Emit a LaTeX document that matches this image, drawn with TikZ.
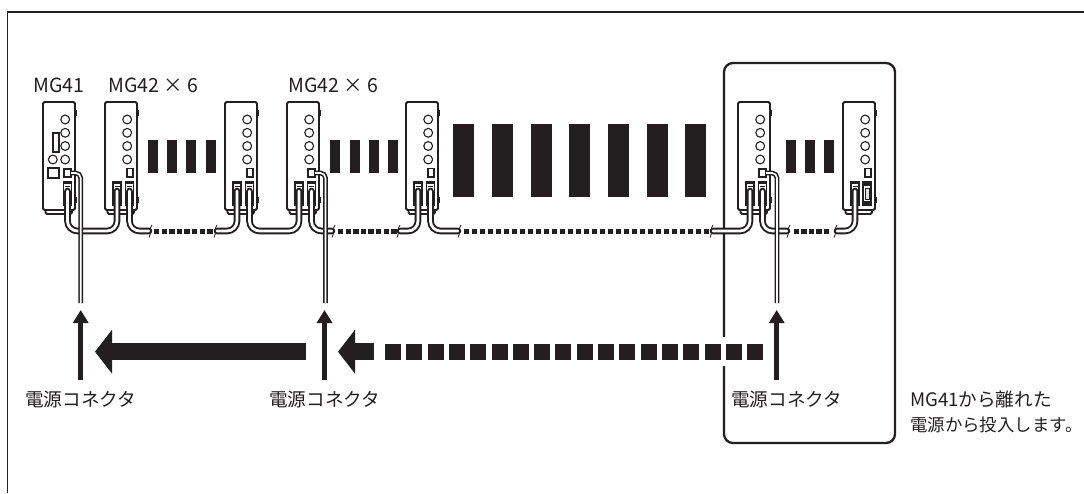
\documentclass[tikz,border=0pt]{standalone}
\usepackage{fontspec}
\setmainfont{Noto Sans CJK JP}
\usetikzlibrary{arrows.meta}
\definecolor{ink}{HTML}{231F20}
\tikzset{
  x=1pt,y=-1pt,
  shell/.style={draw=ink,line width=1.9pt,fill=white,rounded corners=1.5pt},
  thin part/.style={draw=ink,line width=1.1pt,fill=white},
  cable/.style={draw=ink,line width=1.9pt,double=white,double distance=2.8pt,line cap=round,rounded corners=10pt},
  power cable/.style={draw=ink,line width=1.6pt,double=white,double distance=1.6pt,rounded corners=5pt},
  up arrow/.style={draw=ink,line width=5pt,-{Triangle[length=13pt,width=15pt]}},
  big arrow/.style={draw=ink,line width=17pt,-{Triangle[length=17pt,width=43pt]}},
  label/.style={anchor=base west,inner sep=0pt,text=ink,font=\fontsize{18.6}{18.6}\selectfont},
  top label/.style={label,font=\fontsize{19.5}{19.5}\selectfont},
  tight label/.style={label,font=\fontsize{17.4}{17.4}\selectfont},
  brk/.style={draw=ink,line width=0.8pt},
}
% #1 name, #2 left edge
\newcommand\devbody[2]{%
  \begin{scope}[shift={(#2,0)}]
    \draw[shell] (2.5,208) -- (2.5,214) -- (29,214) -- (29,208);
    \draw[draw=ink,line width=1.9pt,fill=white,rounded corners=1.5pt] (0,210) -- (0,102) -- (32,102) -- (32,210) -- cycle;
    \fill[ink] (31.6,110) rectangle (33.8,116);
    \fill[ink] (31.6,197) rectangle (33.8,203);
    \foreach \cy in {119.5,132.8,146,159.5} \draw[thin part] (22.2,\cy) circle (4.4);
    \coordinate (#1-a) at (12,191);
    \coordinate (#1-b) at (24.5,191);
    \coordinate (#1-p) at (28,173);
  \end{scope}}
\newcommand\conn[2]{% left edge, centre offset
  \begin{scope}[shift={(#1+#2,0)}]
    \draw[draw=ink,line width=1.2pt,fill=white] (-4,182) rectangle (4,205);
    \fill[ink] (-4,182) rectangle (4,184);
    \draw[ink,line width=0.6pt] (-2.5,186.5) -- (2.5,186.5);
  \end{scope}}
\newcommand\smallport[1]{\draw[thin part] (#1+22,168.5) rectangle (#1+28,177);}
\newcommand\powerport[1]{\draw[thin part,fill=white] (#1+21,169) rectangle (#1+28,177);}
\newcommand\brkmark[1]{\draw[brk] (#1-1.5,237.5) .. controls (#1+1,234) and (#1-1.5,228) .. (#1+1.5,225);}
\begin{document}
\begin{tikzpicture}
\useasboundingbox (0,0) rectangle (1084,493);
\fill[white] (0,0) rectangle (1084,493);
% outer frame
\draw[ink,line width=1.5pt] (7.3,493) -- (7.3,12) -- (1084,12);
% highlight box
\draw[ink,line width=2.3pt,rounded corners=9pt] (724,63) rectangle (895,443);
\fill[white] (720,337) rectangle (728,366);
% devices
\devbody{da}{43}
\devbody{db}{105}
\devbody{dc}{225}
\devbody{dd}{287}
\devbody{de}{406}
\devbody{df}{738}
\devbody{dg}{843}
% MG41 extras
\draw[thin part] (53,133) rectangle (59,152);
\draw[thin part] (52.8,159.5) circle (4.4);
\draw[thin part] (48,168) rectangle (59,178);
\powerport{43}
\powerport{287}
\powerport{738}
\smallport{105}
\smallport{225}
\smallport{406}
\smallport{843}
% connectors
\conn{43}{24.5}
\foreach \dx in {105,225,287,406,738} {\conn{\dx}{12}\conn{\dx}{24.5}}
\conn{843}{12}
\draw[draw=ink,line width=1.2pt,fill=white] (863,182) rectangle (871,205);
\fill[ink] (863,182) rectangle (871,186);
\fill[ink] (863,201) rectangle (871,205);
\draw[draw=ink,line width=0.6pt,fill=black!12] (865,188) rectangle (869,199);
% bus anchors
\coordinate (bus) at (0,231);
\coordinate (b1r) at (149,231);
\coordinate (b1l) at (217,231);
\coordinate (b2r) at (332,231);
\coordinate (b2l) at (400,231);
\coordinate (b3r) at (458,231);
\coordinate (b3l) at (713,231);
\coordinate (b4r) at (787,231);
\coordinate (b4l) at (837,231);
% data cables
\draw[cable] (da-b) -- (da-b |- bus) -- (db-a |- bus) -- (db-a);
\draw[cable] (db-b) -- (db-b |- bus) -- (b1r);
\draw[cable] (b1l) -- (dc-a |- bus) -- (dc-a);
\draw[cable] (dc-b) -- (dc-b |- bus) -- (dd-a |- bus) -- (dd-a);
\draw[cable] (dd-b) -- (dd-b |- bus) -- (b2r);
\draw[cable] (b2l) -- (de-a |- bus) -- (de-a);
\draw[cable] (de-b) -- (de-b |- bus) -- (b3r);
\draw[cable] (b3l) -- (df-a |- bus) -- (df-a);
\draw[cable] (df-b) -- (df-b |- bus) -- (b4r);
\draw[cable] (b4l) -- (dg-a |- bus) -- (dg-a);
\foreach \bx in {150.5,215.5,333.5,398.5,459.5,711.5,788.5,835.5} {\brkmark{\bx}}
% dotted runs of the bus
\foreach \i in {0,...,7}  \fill[ink] (154+7.6*\i,229) rectangle +(5.4,5);
\foreach \i in {0,...,7}  \fill[ink] (338+7.6*\i,229) rectangle +(5.4,5);
\foreach \i in {0,...,30} \fill[ink] (463.5+8*\i,229) rectangle +(5.6,5);
\foreach \i in {0,...,4}  \fill[ink] (793.5+7.6*\i,229) rectangle +(5.4,5);
% power cables
\coordinate (pa) at (80.7,303);
\coordinate (pd) at (325.5,303);
\coordinate (pf) at (777,303);
\draw[power cable] (da-p) -- (da-p -| pa) -- (pa);
\draw[power cable] (dd-p) -- (dd-p -| pd) -- (pd);
\draw[power cable] (df-p) -- (df-p -| pf) -- (pf);
% bars
\foreach \bx in {148,167,186,206,330,350,369,388,786,805,824} \fill[ink] (\bx,140) rectangle +(10,33);
\foreach \bx in {453,492,531,569,608,647,685} \fill[ink] (\bx,124) rectangle +(21,73);
% arrows
\coordinate (u1) at (80.7,380); \coordinate (v1) at (80.7,310);
\coordinate (u2) at (324.5,380); \coordinate (v2) at (324.5,310);
\coordinate (u3) at (776.7,380); \coordinate (v3) at (776.7,310);
\draw[up arrow] (u1) -- (v1);
\draw[up arrow] (u2) -- (v2);
\draw[up arrow] (u3) -- (v3);
\coordinate (g1) at (306,351.7); \coordinate (h1) at (95,351.7);
\coordinate (g2) at (374,351.7); \coordinate (h2) at (338,351.7);
\draw[big arrow] (g1) -- (h1);
\draw[big arrow] (g2) -- (h2);
\foreach \i in {0,...,17} \fill[ink] (385+21.3*\i,343.5) rectangle +(16,16.5);
% labels
\node[top label] (t1) at (33,92) {MG41};
\node[top label] (t2) at (108,92) {MG42 × 6};
\node[top label] (t3) at (288,92) {MG42 × 6};
\node[label] (c1) at (25,406.5) {電源コネクタ};
\node[label] (c2) at (269,406.5) {電源コネクタ};
\node[label] (c3) at (731,406.5) {電源コネクタ};
\node[label] (n1) at (910,406.5) {MG41から離れた};
\node[tight label] (n2) at (910,431) {電源から投入します。};
\end{tikzpicture}
\end{document}
